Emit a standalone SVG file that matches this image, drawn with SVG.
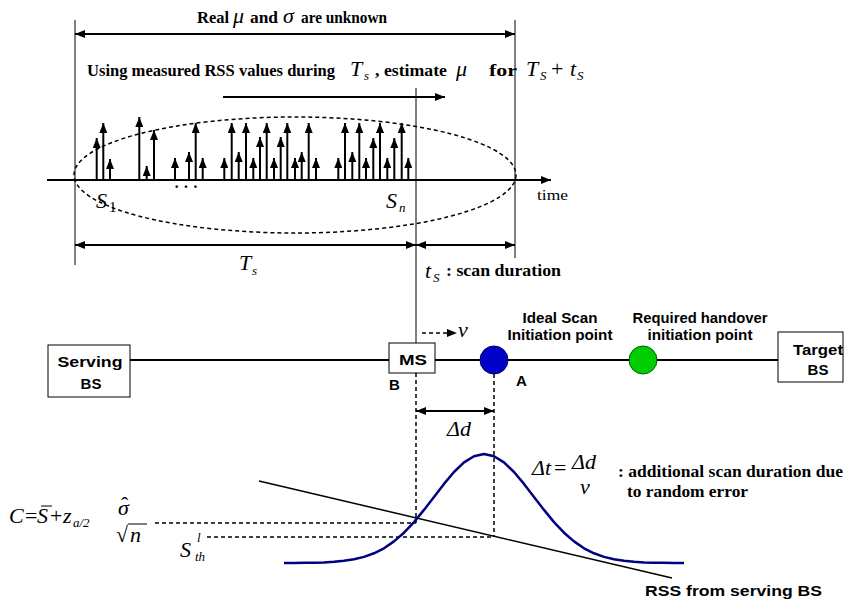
<svg xmlns="http://www.w3.org/2000/svg" width="844" height="599" viewBox="0 0 844 599">
<style>
.tb{font-family:"Liberation Serif",serif;font-weight:bold;font-size:16px;fill:#000}
.tr{font-family:"Liberation Serif",serif;font-size:15px;fill:#000}
.mi{font-family:"Liberation Serif",serif;font-style:italic;font-size:22px;fill:#000}
.ms{font-family:"Liberation Serif",serif;font-style:italic;font-size:13px;fill:#000}
.mr{font-family:"Liberation Serif",serif;font-size:22px;fill:#000}
.ab{font-family:"Liberation Sans",Arial,sans-serif;font-weight:bold;font-size:15px;fill:#000}
.thin{stroke:#000;stroke-width:1;fill:none}
.bold{stroke:#000;stroke-width:2;fill:none}
.dash{stroke:#000;stroke-width:1.5;stroke-dasharray:4 3;fill:none}
.box{fill:#fff;stroke:#000;stroke-width:1}
.smp line{stroke:#000;stroke-width:2;marker-end:url(#up)}
.dbl{marker-start:url(#ah);marker-end:url(#ah)}
.one{marker-end:url(#ah)}
</style>
<defs>
<marker id="ah" viewBox="0 0 10 8" refX="10" refY="4" markerWidth="10" markerHeight="8" markerUnits="userSpaceOnUse" orient="auto-start-reverse"><path d="M0,0L10,4L0,8z" fill="#000"/></marker>
<marker id="up" viewBox="0 0 10 8" refX="10" refY="4" markerWidth="10" markerHeight="8" markerUnits="userSpaceOnUse" orient="auto"><path d="M0,0L10,4L0,8z" fill="#000"/></marker>
</defs>
<rect width="844" height="599" fill="#fff"/>

<g id="top-labels">
<text class="tb" x="197" y="23" textLength="32" lengthAdjust="spacingAndGlyphs">Real</text>
<text class="mi" x="233" y="23">μ</text>
<text class="tb" x="250" y="23" textLength="28" lengthAdjust="spacingAndGlyphs">and</text>
<text class="mi" x="283" y="23">σ</text>
<text class="tb" x="301" y="23" textLength="86" lengthAdjust="spacingAndGlyphs">are unknown</text>

<text class="tb" x="87" y="76" textLength="248" lengthAdjust="spacingAndGlyphs">Using measured RSS values during</text>
<text class="mi" x="350" y="76">T</text><text class="ms" x="364" y="80">s</text>
<text class="tb" x="375" y="76" textLength="72" lengthAdjust="spacingAndGlyphs">, estimate</text>
<text class="mi" x="456" y="76">μ</text>
<text class="tb" x="489" y="76" textLength="28" lengthAdjust="spacingAndGlyphs">for</text>
<text class="mi" x="526" y="76">T</text><text class="ms" x="540" y="80">S</text>
<text class="mr" x="551" y="76">+</text>
<text class="mi" x="570" y="76">t</text><text class="ms" x="577" y="80">S</text>
</g>

<g id="samples" class="smp">
<line x1="96.7" y1="180" x2="96.7" y2="138"/>
<line x1="103.3" y1="180" x2="103.3" y2="123"/>
<line x1="110" y1="180" x2="110" y2="159"/>
<line x1="139.3" y1="180" x2="139.3" y2="117"/>
<line x1="146.7" y1="180" x2="146.7" y2="166"/>
<line x1="154" y1="180" x2="154" y2="130"/>
<line x1="175" y1="180" x2="175" y2="158"/>
<line x1="189" y1="180" x2="189" y2="152"/>
<line x1="195.7" y1="180" x2="195.7" y2="123"/>
<line x1="202.7" y1="180" x2="202.7" y2="158"/>
<line x1="224.3" y1="180" x2="224.3" y2="158"/>
<line x1="231.7" y1="180" x2="231.7" y2="123"/>
<line x1="238.7" y1="180" x2="238.7" y2="152"/>
<line x1="246" y1="180" x2="246" y2="123"/>
<line x1="253.3" y1="180" x2="253.3" y2="158"/>
<line x1="260" y1="180" x2="260" y2="137"/>
<line x1="266.7" y1="180" x2="266.7" y2="123"/>
<line x1="274" y1="180" x2="274" y2="158"/>
<line x1="280.7" y1="180" x2="280.7" y2="137"/>
<line x1="287.3" y1="180" x2="287.3" y2="123"/>
<line x1="295" y1="180" x2="295" y2="158"/>
<line x1="301.7" y1="180" x2="301.7" y2="152"/>
<line x1="308.7" y1="180" x2="308.7" y2="123"/>
<line x1="316" y1="180" x2="316" y2="158"/>
<line x1="338.3" y1="180" x2="338.3" y2="158"/>
<line x1="345" y1="180" x2="345" y2="123"/>
<line x1="352.3" y1="180" x2="352.3" y2="152"/>
<line x1="359.3" y1="180" x2="359.3" y2="123"/>
<line x1="366" y1="180" x2="366" y2="158"/>
<line x1="373.3" y1="180" x2="373.3" y2="138"/>
<line x1="380" y1="180" x2="380" y2="123"/>
<line x1="387.3" y1="180" x2="387.3" y2="158"/>
<line x1="394.3" y1="180" x2="394.3" y2="138"/>
<line x1="401.7" y1="180" x2="401.7" y2="123"/>
<line x1="408.3" y1="180" x2="408.3" y2="158"/>
</g>

<g id="window">
<ellipse cx="295" cy="175" rx="221" ry="58" class="dash"/>
</g>

<g id="axis-labels">
<text class="mi" x="96" y="208">S</text><text class="tr" x="109" y="212" font-size="13">1</text>
<text class="tb" x="174" y="192">· · ·</text>
<text class="mi" x="386" y="208">S</text><text class="ms" x="399" y="212">n</text>
<text class="tr" x="537" y="200" textLength="31" lengthAdjust="spacingAndGlyphs">time</text>
<text class="mi" x="239" y="270">T</text><text class="ms" x="252" y="275">s</text>
<text class="mi" x="425" y="278">t</text><text class="ms" x="433" y="282">S</text>
<text class="tb" x="446" y="276" font-size="15" textLength="115" lengthAdjust="spacingAndGlyphs">: scan duration</text>
</g>

<g id="serving-bs">
<rect class="box" x="48" y="345" width="82" height="52"/>
<text class="ab" x="90" y="367" text-anchor="middle" font-size="16" textLength="65" lengthAdjust="spacingAndGlyphs">Serving</text>
<text class="ab" x="91" y="389" text-anchor="middle" font-size="16">BS</text>
</g>

<g id="ms">
<rect class="box" x="389" y="343" width="46" height="30"/>
<text class="ab" x="413" y="365" text-anchor="middle" font-size="16" textLength="28" lengthAdjust="spacingAndGlyphs">MS</text>
<text class="ab" x="389" y="390" font-size="15">B</text>
<text class="mi" x="458" y="337">v</text>
</g>

<g id="point-a">
<circle cx="494" cy="360" r="14" fill="#0000c8" stroke="#000060" stroke-width="1"/>
<text class="ab" x="516" y="386" font-size="15">A</text>
<text class="ab" x="560" y="323" text-anchor="middle" font-size="14" textLength="75" lengthAdjust="spacingAndGlyphs">Ideal Scan</text>
<text class="ab" x="560" y="340" text-anchor="middle" font-size="14" textLength="105" lengthAdjust="spacingAndGlyphs">Initiation point</text>
</g>

<g id="handover-point">
<circle cx="643" cy="360" r="14" fill="#00cc00" stroke="#006000" stroke-width="1"/>
<text class="ab" x="700" y="323" text-anchor="middle" font-size="14" textLength="135" lengthAdjust="spacingAndGlyphs">Required handover</text>
<text class="ab" x="700" y="340" text-anchor="middle" font-size="14" textLength="105" lengthAdjust="spacingAndGlyphs">initiation point</text>
</g>

<g id="target-bs">
<rect class="box" x="778" y="332" width="65" height="50"/>
<text class="ab" x="818" y="355" text-anchor="middle" font-size="16" textLength="50" lengthAdjust="spacingAndGlyphs">Target</text>
<text class="ab" x="818" y="375" text-anchor="middle" font-size="16">BS</text>
</g>

<g id="connectors">
<line class="thin" x1="75" y1="20" x2="75" y2="265"/>
<line class="thin" x1="515" y1="20" x2="515" y2="258"/>
<line class="thin" x1="416" y1="88" x2="416" y2="343"/>
<line class="bold dbl" x1="75" y1="34" x2="515" y2="34"/>
<line class="bold one" x1="223" y1="97" x2="445" y2="97"/>
<line class="bold one" x1="47" y1="180" x2="551" y2="180"/>
<line class="bold dbl" x1="75" y1="245" x2="416" y2="245"/>
<line class="bold dbl" x1="416" y1="245" x2="515" y2="245"/>
<line class="bold" x1="130" y1="360" x2="389" y2="360"/>
<line class="bold" x1="435" y1="360" x2="480" y2="360"/>
<line class="bold" x1="508" y1="360" x2="629" y2="360"/>
<line class="bold" x1="657" y1="360" x2="778" y2="360"/>
<line class="dash one" stroke-width="2" x1="422" y1="333" x2="457" y2="333"/>
<line class="dash" x1="416" y1="373" x2="416" y2="523"/>
<line class="dash" x1="494" y1="374" x2="494" y2="537"/>
<line class="bold dbl" x1="416" y1="411" x2="494" y2="411"/>
<line class="dash" x1="155" y1="523" x2="416" y2="523"/>
<line class="dash" x1="207" y1="537" x2="494" y2="537"/>
<line stroke="#000" stroke-width="1.5" x1="259" y1="481" x2="672" y2="578"/>
</g>

<g id="bell">
<path d="M284,563 L294,562.9 L304,562.8 L314,562.7 L324,562.4 L334,561.8 L344,560.8 L354,559.3 L364,556.9 L374,553.3 L384,548.3 L394,541.4 L404,532.7 L414,522.1 L424,509.9 L434,496.9 L444,483.9 L454,472 L464,462.4 L474,456.2 L484,454 L494,456.2 L504,462.4 L514,472 L524,483.9 L534,496.9 L544,509.9 L554,522.1 L564,532.7 L574,541.4 L584,548.3 L594,553.3 L604,556.9 L614,559.3 L624,560.8 L634,561.8 L644,562.4 L654,562.7 L664,562.8 L674,562.9 L684,563" fill="none" stroke="#000080" stroke-width="2.5" stroke-linejoin="round"/>
</g>

<g id="bottom-labels">
<text class="mi" x="447" y="436">Δd</text>
<text class="mi" x="532" y="475">Δt</text>
<text class="mr" x="554" y="475">=</text>
<text class="mi" x="572" y="469">Δd</text>
<text class="mi" x="580" y="494">v</text>
<text class="tb" x="618" y="477" textLength="225" lengthAdjust="spacingAndGlyphs">: additional scan duration due</text>
<text class="tb" x="627" y="497" textLength="121" lengthAdjust="spacingAndGlyphs">to random error</text>
<text class="ab" x="645" y="596" font-size="16" textLength="177" lengthAdjust="spacingAndGlyphs">RSS from serving BS</text>

<text class="mi" x="9" y="523">C</text>
<text class="mr" x="25" y="523">=</text>
<text class="mi" x="37" y="523">S</text>
<line class="thin" x1="41" y1="506" x2="52" y2="506"/>
<text class="mr" x="50" y="523">+</text>
<text class="mi" x="63" y="523">z</text>
<text class="ms" x="73" y="527" font-size="12">a/2</text>
<text class="mi" x="118" y="515">σ</text>
<text class="mr" x="121" y="512" font-size="16">ˆ</text>
<text class="mr" x="116" y="542">√</text>
<line class="thin" x1="128" y1="524" x2="147" y2="524"/>
<text class="mi" x="130" y="542">n</text>
<text class="mi" x="180" y="557" font-size="24">S</text>
<text class="ms" x="197" y="542" font-size="12">l</text>
<text class="ms" x="195" y="561" font-size="12">th</text>
</g>
</svg>
